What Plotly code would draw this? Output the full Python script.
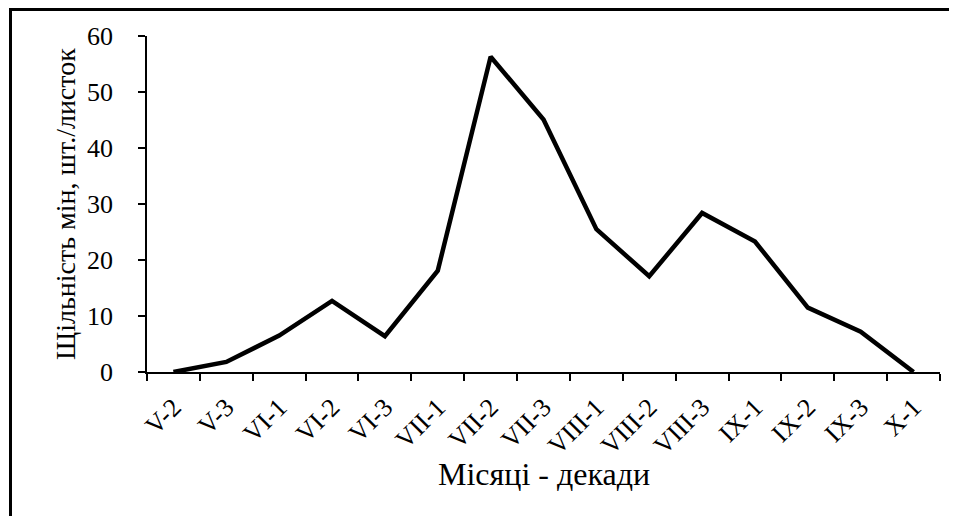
import plotly.graph_objects as go

categories = ["V-2", "V-3", "VI-1", "VI-2", "VI-3", "VII-1", "VII-2", "VII-3",
              "VIII-1", "VIII-2", "VIII-3", "IX-1", "IX-2", "IX-3", "X-1"]
density = [0.0, 1.8, 6.5, 12.7, 6.4, 18.1, 56.3, 45.1,
           25.5, 17.1, 28.4, 23.3, 11.5, 7.2, 0.0]
y_ticks = [0, 10, 20, 30, 40, 50, 60]
x_title = "Місяці - декади"
y_title = "Щільність мін, шт./листок"

FONT = "Liberation Serif"

fig = go.Figure()
fig.add_trace(go.Scatter(
    x=categories, y=density, mode="lines",
    line=dict(color="black", width=4.5, shape="linear"),
    showlegend=False, hoverinfo="skip",
))

# page has an 8px body margin; figure is sized to fill the rest of the 957x516 window
W, H = 949, 508
L, R, T, B = 139, 17, 28, 144
pw, ph = W - L - R, H - T - B

def px_x(p):
    return (p - L) / pw

def px_y(p):
    return (H - B - p) / ph

border = dict(color="black", width=3)
fig.update_layout(
    width=W, height=H,
    margin=dict(l=L, r=R, t=T, b=B, autoexpand=False),
    paper_bgcolor="white", plot_bgcolor="white",
    font=dict(family=FONT, color="black", size=26),
    shapes=[
        dict(type="line", xref="paper", yref="paper",
             x0=px_x(2.5), x1=px_x(2.5), y0=px_y(H + 5), y1=px_y(0),
             line=border),
        dict(type="line", xref="paper", yref="paper",
             x0=px_x(1), x1=px_x(W + 5), y0=px_y(1.5), y1=px_y(1.5),
             line=border),
    ],
    annotations=[
        dict(text=x_title, xref="paper", yref="paper", x=0.5, y=px_y(466),
             xanchor="center", yanchor="middle", showarrow=False,
             font=dict(family=FONT, size=32, color="black")),
        dict(text=y_title, xref="paper", yref="paper", x=px_x(57), y=0.5,
             xanchor="center", yanchor="middle", showarrow=False, textangle=-90,
             font=dict(family=FONT, size=28, color="black")),
    ],
)
fig.update_xaxes(
    type="category", categoryorder="array", categoryarray=categories,
    range=[-0.5, len(categories) - 0.5],
    tickson="boundaries", ticks="outside", ticklen=7, tickwidth=1.5, tickcolor="black",
    showline=True, linecolor="black", linewidth=1.5,
    showgrid=False, zeroline=False, tickangle=-45,
    tickfont=dict(family=FONT, size=26, color="black"),
    ticklabelstandoff=8,
    automargin=False,
)
fig.update_yaxes(
    range=[0, 60], tickvals=y_ticks, ticktext=[str(v) for v in y_ticks],
    ticks="outside", ticklen=7, tickwidth=1.5, tickcolor="black",
    showline=True, linecolor="black", linewidth=1.5,
    showgrid=False, zeroline=False,
    tickfont=dict(family=FONT, size=26, color="black"),
    ticklabelstandoff=20,
    automargin=False,
)

fig.write_html("out.html", config={"displayModeBar": False})
